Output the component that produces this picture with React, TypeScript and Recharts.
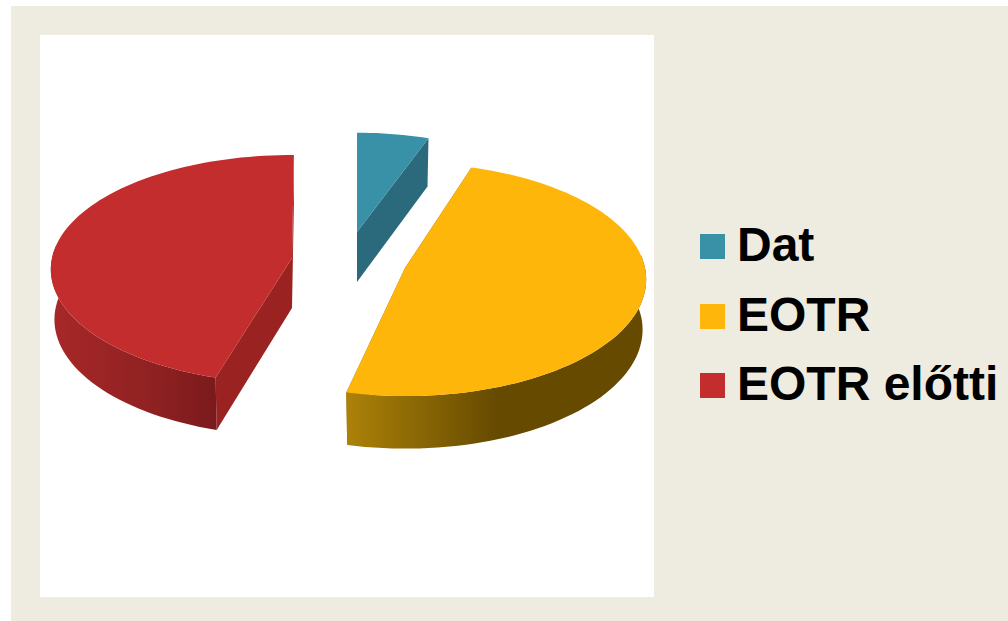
import React from 'react';
import { PieChart, Pie, Legend } from 'recharts';

// Slice names and shares
const categories = ['Dat', 'EOTR', 'EOTR előtti'];
const shares = [5.6, 48.5, 45.9];
const colors = ['#3891A7', '#FEB60A', '#C32D2E'];
const cutColors = ['#2B6A7D', '#8A6608', '#9A2322'];

// How far every slice is pulled out of the pie, [dx, dy]
const explode = [
  [7, -28],
  [55, 8],
  [-58, -2],
];

// Perspective of the pulled out slices: scale, height and the change of start and end angle
const sliceScale = [0.945, 1, 1];
const sliceHeight = [1, 1, 0.98];
const angleShift = [
  [0, 0],
  [2.5, 2],
  [-2, -0.5],
];

const wallStops = [
  [['0', '#2B6A7D'], ['1', '#2B6A7D']],
  [['0', '#AC8209'], ['0.5', '#664A00'], ['1', '#664A00']],
  [['0', '#A82828'], ['0.6', '#902122'], ['1', '#7A1A1C']],
];

const rows = categories.map((name, i) => ({ name, value: shares[i], fill: colors[i] }));

const CHART_W = 1008;
const CHART_H = 621;
const SQUASH = 0.481; // vertical flattening of the disc
const TILT = 0.0987; // perspective, the back of the disc is smaller
const DEPTH = 50;
const RADIAN = Math.PI / 180;

// Project a point of the disc rim to the tilted picture, relative to the apex
const project = (angle: number, r: number, height: number) => {
  const x = Math.cos(angle * RADIAN);
  const y = Math.sin(angle * RADIAN);
  const w = 1 + TILT * y;
  return { x: (r * x) / w, y: (-r * SQUASH * height * y) / w, up: y };
};

const toBottom = (p: { x: number; y: number }) => ({ x: p.x * 0.985, y: DEPTH + p.y * 1.02 });

const toPath = (pts: { x: number; y: number }[], ox: number, oy: number) =>
  'M' + pts.map((p) => `${(p.x + ox).toFixed(1)},${(p.y + oy).toFixed(1)}`).join('L') + 'Z';

const Slice3D = (props: any) => {
  const { cx, cy, outerRadius, startAngle, endAngle, fill, name } = props;
  const index = categories.indexOf(name);
  const [dx, dy] = explode[index];
  const ox = cx + dx;
  const oy = cy + dy;
  const from = startAngle + angleShift[index][0];
  const to = endAngle + angleShift[index][1];
  const r = outerRadius * sliceScale[index];

  const rim: { x: number; y: number; up: number }[] = [];
  const steps = Math.max(2, Math.ceil(Math.abs(to - from) / 2));
  for (let s = 0; s <= steps; s++) {
    rim.push(project(from + ((to - from) * s) / steps, r, sliceHeight[index]));
  }
  const apex = { x: 0, y: 0 };
  const first = rim[0];
  const last = rim[rim.length - 1];
  const front = rim.filter((p) => p.up < 0.12);

  return (
    <g>
      <defs>
        <linearGradient id={`wall-${index}`} x1="0" y1="0" x2="1" y2="0">
          {wallStops[index].map(([offset, color]) => (
            <stop key={offset} offset={offset} stopColor={color} />
          ))}
        </linearGradient>
      </defs>
      <path d={toPath([apex, first, toBottom(first), toBottom(apex)], ox, oy)} fill={cutColors[index]} />
      <path d={toPath([apex, last, toBottom(last), toBottom(apex)], ox, oy)} fill={cutColors[index]} />
      {front.length > 1 && (
        <path
          d={toPath([...front, ...front.map(toBottom).reverse()], ox, oy)}
          fill={`url(#wall-${index})`}
        />
      )}
      <path d={toPath([apex, ...rim], ox, oy)} fill={fill} />
    </g>
  );
};

const LegendList = ({ payload }: any) => (
  <div>
    {(payload || []).map((item: any) => (
      <div
        key={item.value}
        style={{
          display: 'flex',
          alignItems: 'center',
          height: 69.5,
          fontFamily: '"Liberation Sans", Arial, sans-serif',
          fontWeight: 700,
          fontSize: 48,
          color: '#000',
          whiteSpace: 'nowrap',
        }}
      >
        <span style={{ width: 25, height: 25, marginRight: 12, background: item.color }} />
        <span style={{ position: 'relative', top: -2 }}>{item.value}</span>
      </div>
    ))}
  </div>
);

export default function App() {
  return (
    <div style={{ position: 'absolute', left: 0, top: 0, width: CHART_W, height: CHART_H, background: '#fff', overflow: 'hidden' }}>
      <div style={{ position: 'absolute', left: 11, top: 6, right: 0, bottom: 0, background: '#EEEBE0' }} />
      <div style={{ position: 'absolute', left: 40, top: 35, width: 614, height: 562, background: '#fff' }} />
      <div style={{ position: 'absolute', left: 0, top: 0 }}>
        <PieChart width={CHART_W} height={CHART_H} margin={{ top: 0, right: 0, bottom: 0, left: 0 }}>
          <Pie
            data={rows}
            dataKey="value"
            nameKey="name"
            cx={350}
            cy={260}
            outerRadius={240}
            startAngle={90}
            endAngle={-270}
            stroke="none"
            isAnimationActive={false}
            shape={Slice3D}
          />
          <Legend
            layout="vertical"
            content={LegendList}
            wrapperStyle={{ left: 700, top: 212, width: 308, bottom: 'auto' }}
          />
        </PieChart>
      </div>
    </div>
  );
}
